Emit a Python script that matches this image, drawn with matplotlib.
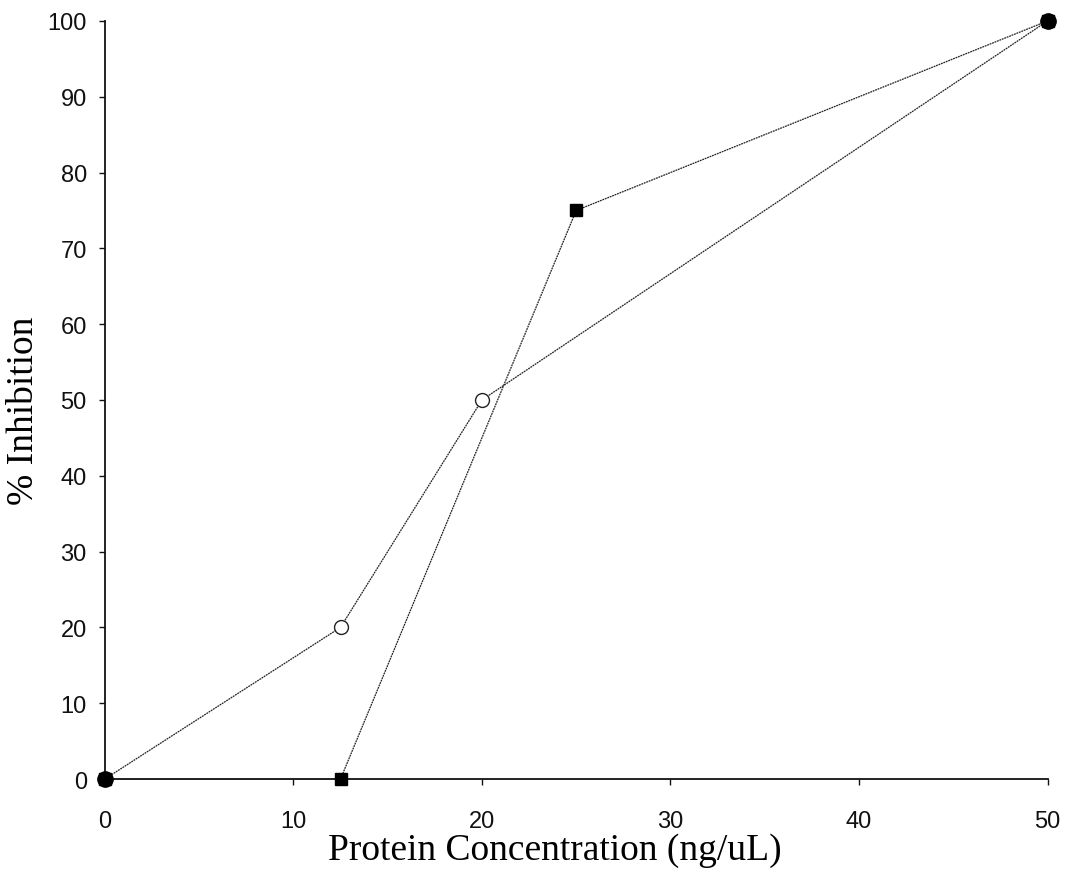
from matplotlib import pyplot as plt
import numpy as np

# open circle series
conc_circle = [0, 12.5, 20, 50]
inhib_circle = [0, 20, 50, 100]

# filled square series
conc_square = [0, 12.5, 25, 50]
inhib_square = [0, 0, 75, 100]

x_ticks = [0, 10, 20, 30, 40, 50]
y_ticks = [0, 10, 20, 30, 40, 50, 60, 70, 80, 90, 100]

fig = plt.figure(figsize=(10.7, 8.78), dpi=100)
ax = fig.add_axes([0.098, 0.1116, 0.881, 0.8634])

ax.plot(conc_circle, inhib_circle, color="#222222", lw=0.9, ls=(0, (1.5, 0.6)),
        marker="o", markersize=10, markerfacecolor="white",
        markeredgecolor="#222222", markeredgewidth=1.0, clip_on=False, zorder=3)
ax.plot(conc_square, inhib_square, color="#222222", lw=0.9, ls=(0, (1.5, 0.6)),
        marker="s", markersize=9, markerfacecolor="black",
        markeredgecolor="black", clip_on=False, zorder=4)
# the shared end points look solid
ax.plot([conc_circle[0], conc_circle[-1]], [inhib_circle[0], inhib_circle[-1]],
        ls="none", marker="o", markersize=11, color="black", clip_on=False, zorder=5)

ax.set_xlim(0, 50)
ax.set_ylim(0, 100)
ax.set_xticks(x_ticks)
ax.set_yticks(y_ticks)

for side in ["top", "right"]:
    ax.spines[side].set_visible(False)
for side in ["left", "bottom"]:
    ax.spines[side].set_linewidth(1.3)
    ax.spines[side].set_color("#111111")

ax.tick_params(direction="out", length=4, width=1, colors="#111111",
               labelsize=17)
ax.tick_params(axis="x", pad=18)
ax.tick_params(axis="y", pad=9)
for lab in ax.get_xticklabels() + ax.get_yticklabels():
    lab.set_family("Liberation Sans")

ax.set_xlabel("Protein Concentration (ng/uL)", family="Liberation Serif",
              fontsize=27)
ax.set_ylabel("% Inhibition", family="Liberation Serif", fontsize=27)
ax.xaxis.set_label_coords(0.477, -0.07)
ax.yaxis.set_label_coords(-0.068, 0.487)

plt.savefig("out.png", dpi=100)
